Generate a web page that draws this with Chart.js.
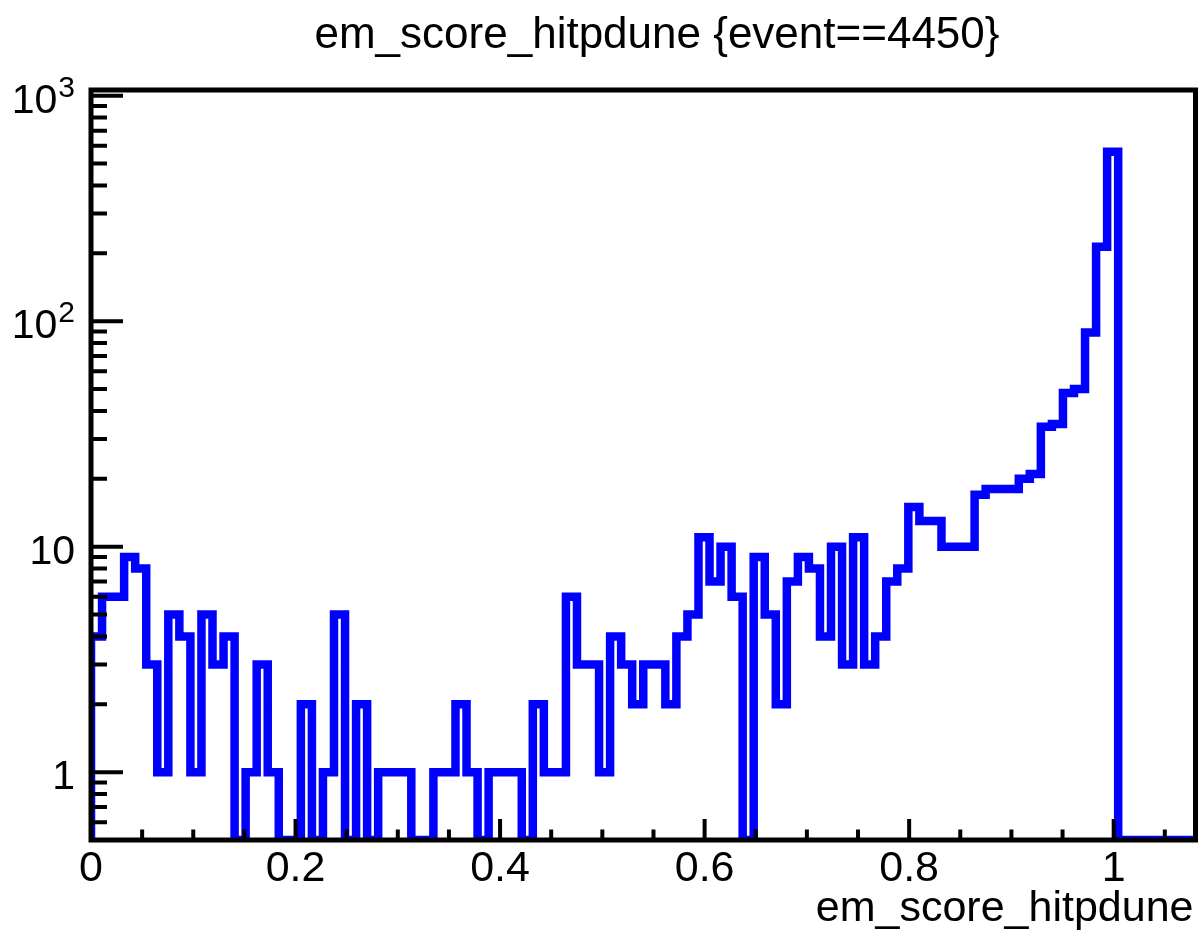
<!DOCTYPE html>
<html>
<head>
<meta charset="utf-8">
<title>em_score_hitpdune {event==4450}</title>
<script src="https://cdn.jsdelivr.net/npm/chart.js@4.4.1/dist/chart.umd.min.js"></script>
<style>
  html, body { margin: 0; padding: 0; background: #ffffff; }
  canvas { display: block; }
</style>
</head>
<body>
<canvas id="hist" width="1200" height="933"></canvas>
<script>
// em_score_hitpdune for event 4450: 100 equal bins over [0, 1.08], log-scale counts
const histTitle = 'em_score_hitpdune {event==4450}';
const xAxisTitle = 'em_score_hitpdune';
const xRange = [0, 1.08];
const binCounts = [
  4, 6, 6, 9, 8, 3, 1, 5, 4, 1,
  5, 3, 4, 0, 1, 3, 1, 0, 0, 2,
  0, 1, 5, 0, 2, 0, 1, 1, 1, 0,
  0, 1, 1, 2, 1, 0, 1, 1, 1, 0,
  2, 1, 1, 6, 3, 3, 1, 4, 3, 2,
  3, 3, 2, 4, 5, 11, 7, 10, 6, 0,
  9, 5, 2, 7, 9, 8, 4, 10, 3, 11,
  3, 4, 7, 8, 15, 13, 13, 10, 10, 10,
  17, 18, 18, 18, 20, 21, 34, 35, 48, 50,
  89, 214, 564, 0, 0, 0, 0, 0, 0, 0
];
const yRange = [0.5, 1060];
const xTickValues = [0, 0.2, 0.4, 0.6, 0.8, 1];
const xTickLabels = ['0', '0.2', '0.4', '0.6', '0.8', '1'];
const xMinorStep = 0.05;
const yTickValues = [1, 10, 100, 1000];
const yTickBase = ['1', '10', '10', '10'];
const yTickExponent = ['', '', '2', '3'];

const FONT = "'Liberation Sans', Arial, Helvetica, sans-serif";
const LINE_BLUE = '#0000ff';

// Histogram outline as a stepped line through the left edge of every bin.
// Empty bins rest on the bottom of the frame, as in a ROOT log-y plot.
const nBins = binCounts.length;
const binWidth = (xRange[1] - xRange[0]) / nBins;
const floorY = yRange[0];
const outline = [{ x: xRange[0], y: floorY }];
binCounts.forEach((c, i) => {
  outline.push({ x: xRange[0] + i * binWidth, y: c > 0 ? c : floorY });
});
const lastCount = binCounts[nBins - 1];
outline.push({ x: xRange[1], y: lastCount > 0 ? lastCount : floorY });
outline.push({ x: xRange[1], y: floorY });

// Frame, inward-pointing ticks, power-of-ten labels and titles
const rootFrame = {
  id: 'rootFrame',
  afterDatasetsDraw(chart) {
    const { ctx, chartArea: a, scales: { x, y } } = chart;
    ctx.save();
    ctx.strokeStyle = '#000';
    ctx.lineCap = 'butt';

    ctx.lineWidth = 4;
    ctx.beginPath();
    const nx = Math.round((xRange[1] - xRange[0]) / xMinorStep);
    for (let k = 0; k <= nx; k++) {
      const v = xRange[0] + k * xMinorStep;
      if (v > xRange[1] + 1e-9) break;
      const major = xTickValues.some(t => Math.abs(t - v) < 1e-6);
      const px = x.getPixelForValue(v);
      ctx.moveTo(px, a.bottom);
      ctx.lineTo(px, a.bottom - (major ? 21 : 10.5));
    }
    const d0 = Math.floor(Math.log10(yRange[0]));
    const d1 = Math.ceil(Math.log10(yRange[1]));
    for (let d = d0; d <= d1; d++) {
      for (let m = 1; m <= 9; m++) {
        const v = m * Math.pow(10, d);
        if (v < yRange[0] || v > yRange[1]) continue;
        const py = y.getPixelForValue(v);
        ctx.moveTo(a.left, py);
        ctx.lineTo(a.left + (m === 1 ? 32 : 16), py);
      }
    }
    ctx.stroke();

    ctx.lineWidth = 5;
    ctx.strokeRect(a.left, a.top, a.right - a.left, a.bottom - a.top);
    ctx.restore();
  },
  afterDraw(chart) {
    const { ctx, chartArea: a, scales: { y } } = chart;
    ctx.save();
    ctx.fillStyle = '#000';
    ctx.textBaseline = 'alphabetic';

    // y labels: base number with an optional raised exponent
    const rightEdge = a.left - 16;
    yTickValues.forEach((v, i) => {
      const py = y.getPixelForValue(v);
      const exp = yTickExponent[i];
      let baseRight = rightEdge;
      if (exp) {
        ctx.font = '30px ' + FONT;
        ctx.textAlign = 'right';
        ctx.fillText(exp, rightEdge, py + 1);
        baseRight = rightEdge - ctx.measureText(exp).width - 1;
      }
      ctx.font = '41px ' + FONT;
      ctx.textAlign = 'right';
      ctx.fillText(yTickBase[i], baseRight, py + 17);
    });

    ctx.font = '44px ' + FONT;
    ctx.textAlign = 'center';
    ctx.fillText(histTitle, 657, 48);

    ctx.font = '43px ' + FONT;
    ctx.textAlign = 'right';
    ctx.fillText(xAxisTitle, a.right - 2, 921);
    ctx.restore();
  }
};

new Chart(document.getElementById('hist'), {
  type: 'line',
  data: {
    datasets: [{
      data: outline,
      stepped: 'before',
      borderColor: LINE_BLUE,
      borderWidth: 8.5,
      pointRadius: 0,
      fill: false,
      tension: 0,
      clip: 0
    }]
  },
  options: {
    responsive: false,
    animation: false,
    events: [],
    layout: { padding: { left: 0, top: 90, right: 4.5, bottom: 0 } },
    plugins: {
      legend: { display: false },
      title: { display: false },
      tooltip: { enabled: false }
    },
    scales: {
      x: {
        type: 'linear',
        min: xRange[0],
        max: xRange[1],
        afterFit(s) { s.height = 93; },
        afterBuildTicks(s) { s.ticks = xTickValues.map(v => ({ value: v })); },
        grid: { display: false, drawTicks: false },
        border: { display: false },
        ticks: {
          autoSkip: false,
          maxRotation: 0,
          padding: 3,
          color: '#000',
          font: { family: FONT, size: 43 },
          callback: (v, i) => xTickLabels[i]
        }
      },
      y: {
        type: 'logarithmic',
        min: yRange[0],
        max: yRange[1],
        afterFit(s) { s.width = 91; },
        afterBuildTicks(s) { s.ticks = yTickValues.map(v => ({ value: v })); },
        grid: { display: false, drawTicks: false },
        border: { display: false },
        ticks: { display: false }
      }
    }
  },
  plugins: [rootFrame]
});
</script>
</body>
</html>
